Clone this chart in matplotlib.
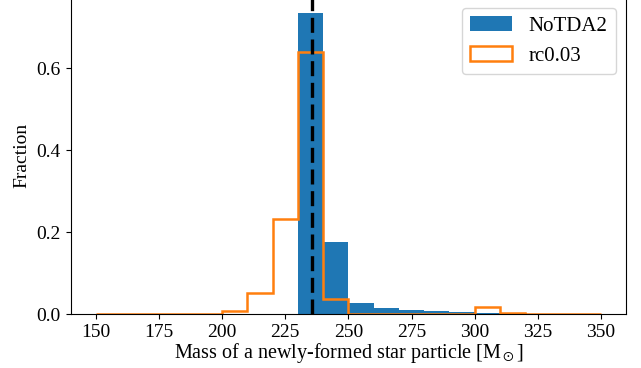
import numpy as np
import matplotlib
matplotlib.use('Agg')
from matplotlib import pyplot as plt

plt.rcParams['font.family'] = ['Liberation Serif', 'DejaVu Serif']
plt.rcParams['mathtext.fontset'] = 'stix'
plt.rcParams['font.size'] = 14

# bin edges (width 10) and per-bin fractions
edges = np.arange(150, 351, 10)
notda2 = [0, 0, 0, 0, 0, 0, 0, 0,
          0.735, 0.176, 0.0275, 0.0155, 0.011, 0.008, 0.0055, 0.004,
          0.0015, 0.0008, 0.0004, 0.0002]
rc003 = [0.0007, 0.0007, 0.0007, 0.0008, 0.001, 0.0088, 0.0526, 0.233,
         0.638, 0.037, 0.0005, 0.0005, 0.0005, 0.0005, 0.0005, 0.0185,
         0.002, 0.0005, 0.0005, 0.0005]
mean_mass = 235.7

centers = edges[:-1] + 5

fig = plt.figure(figsize=(6.41, 3.68), dpi=100)
ax = fig.add_axes([0.11, 0.146, 0.867, 0.861])
ax.hist(centers, bins=edges, weights=notda2, color='#1f77b4', label='NoTDA2')
ax.hist(centers, bins=edges, weights=rc003, histtype='step', color='#ff7f0e',
        lw=1.8, label='rc0.03')
ax.axvline(mean_mass, color='k', lw=2.4, dashes=(4.5, 2))
ax.set_xlim(140, 360)
ax.set_ylim(0, 0.772)
ax.set_yticks([0, 0.2, 0.4, 0.6])
ax.set_xlabel(r'Mass of a newly-formed star particle [M$_\odot$]', labelpad=0,
              fontsize=14.5)
ax.set_ylabel('Fraction')
ax.legend(loc='upper right', fontsize=15)

plt.savefig('out.png', dpi=100)
